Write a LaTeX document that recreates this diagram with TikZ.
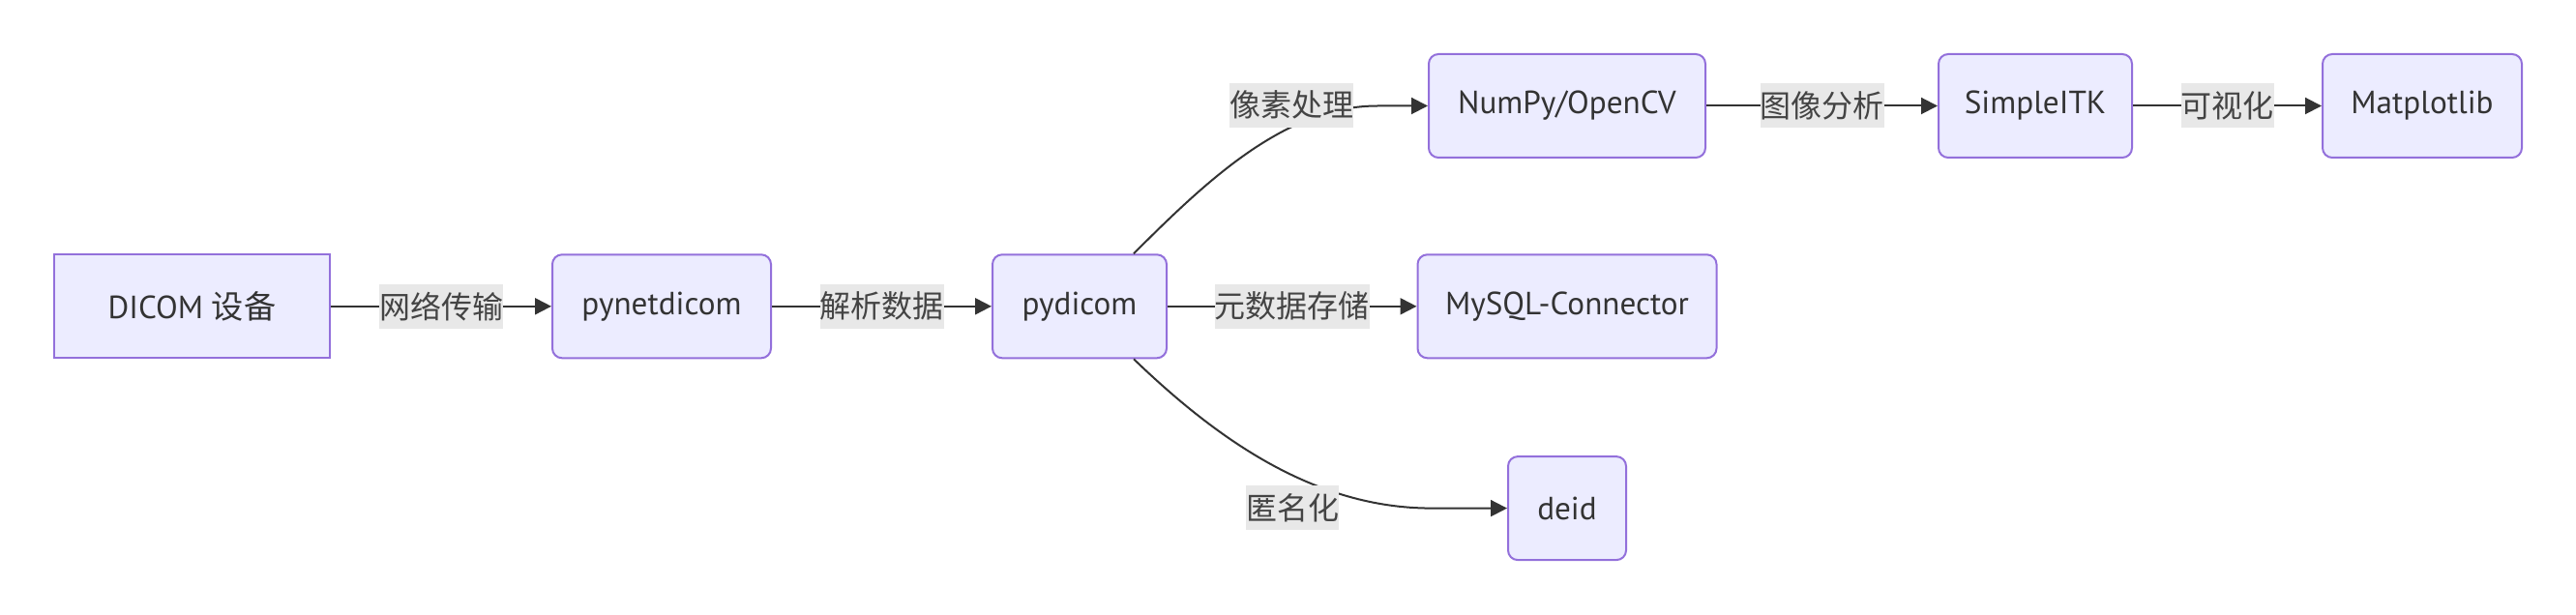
\documentclass[tikz,border=0pt]{standalone}
\usepackage{fontspec}
\setmainfont{PT Sans}
\newfontfamily\cjk{Noto Sans CJK SC}
\usetikzlibrary{arrows.meta}
\definecolor{nodefill}{HTML}{ECECFF}
\definecolor{nodeline}{HTML}{9370DB}
\definecolor{edgecol}{HTML}{333333}
\definecolor{lbltext}{HTML}{444444}
\definecolor{lblbg}{HTML}{E8E8E8}
\begin{document}
\begin{tikzpicture}[x=1pt,y=-1pt,
  box/.style={draw=nodeline, fill=nodefill, line width=1pt, minimum height=53.5pt,
    inner sep=0pt, font=\fontsize{16.6}{19}\selectfont, text=edgecol},
  rbox/.style={box, rounded corners=5pt},
  lbl/.style={fill=lblbg, text=lbltext, font=\fontsize{16}{19}\selectfont\cjk,
    inner sep=0pt, minimum height=23pt},
  edge/.style={draw=edgecol, line width=1pt, -{Triangle[length=8.5pt,width=8.5pt]}}
]
\useasboundingbox (0,0) rectangle (1331.5,318);
% nodes
\node[box,  minimum width=142.5pt] (dicom) at (99.25,158.4) {DICOM {\cjk 设备}};
\node[rbox, minimum width=113pt]   (pynet) at (342,158.4) {pynetdicom};
\node[rbox, minimum width=90pt]    (pyd)   at (558,158.4) {pydicom};
\node[rbox, minimum width=154.5pt] (mysql) at (810,158.4) {MySQL-Connector};
\node[rbox, minimum width=143pt]   (numpy) at (810,54.75) {NumPy/OpenCV};
\node[rbox, minimum width=100pt]   (sitk)  at (1052,54.75) {SimpleITK};
\node[rbox, minimum width=103pt]   (mpl)   at (1252,54.75) {Matplotlib};
\node[rbox, minimum width=61pt]    (deid)  at (810,262.8) {deid};
% straight edges
\draw[edge] (dicom) -- node[lbl] {网络传输} (pynet);
\draw[edge] (pynet) -- node[lbl] {解析数据} (pyd);
\draw[edge] (pyd) -- node[lbl] {元数据存储} (mysql);
\draw[edge] (numpy) -- node[lbl] {图像分析} (sitk);
\draw[edge] (sitk) -- node[lbl] {可视化} (mpl);
% curved edges
\coordinate (pydtop) at ([xshift=28pt]pyd.north);
\coordinate (pydbot) at ([xshift=28pt]pyd.south);
\draw[edge] (pydtop) .. controls (625,92) and (665,54.75) .. (712,54.75) -- (numpy.west);
\draw[edge] (pydbot) .. controls (630,228) and (680,262.8) .. (740,262.8) -- (deid.west);
\node[lbl] (l1) at (667.5,54.4) {像素处理};
\node[lbl] (l2) at (668,262.4) {匿名化};
\end{tikzpicture}
\end{document}
